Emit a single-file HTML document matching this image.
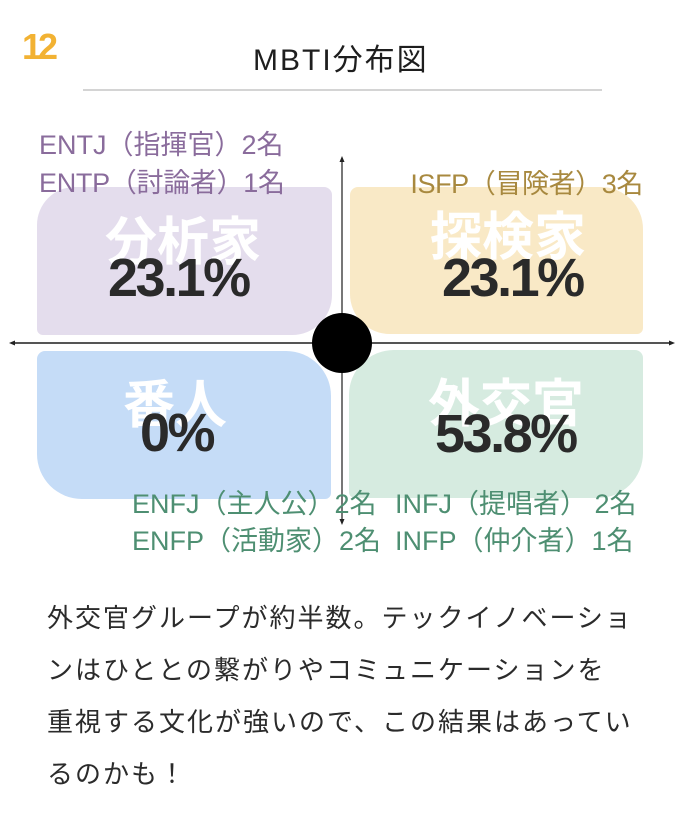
<!DOCTYPE html>
<html lang="ja">
<head>
<meta charset="utf-8">
<style>
  html,body{margin:0;padding:0;background:#fff;}
  body{width:684px;height:838px;position:relative;overflow:hidden;
       font-family:"Liberation Sans","Noto Sans CJK JP",sans-serif;}
  .a{position:absolute;white-space:nowrap;}
  .lbl{font-size:27px;line-height:27px;}
  .box{position:absolute;}
  .big{position:absolute;font-size:52px;line-height:52px;font-weight:bold;color:#fff;white-space:nowrap;
       font-family:"Liberation Sans","Noto Sans CJK JP",sans-serif;}
  .pct{position:absolute;font-size:54px;line-height:54px;font-weight:bold;color:#2a2a2a;letter-spacing:-2.5px;white-space:nowrap;}
</style>
</head>
<body>
  <!-- page number -->
  <div class="a" style="left:22px;top:29px;font-size:36px;line-height:36px;font-weight:bold;color:#f2b233;letter-spacing:-4px;">12</div>

  <!-- title -->
  <div class="a" style="left:253px;top:46px;font-size:30px;line-height:30px;color:#1e1e1e;letter-spacing:2px;">MBTI分布図</div>
  <div class="a" style="left:83px;top:89px;width:519px;height:2px;background:#d4d4d4;"></div>

  <!-- boxes -->
  <div class="box" style="left:37px;top:187px;width:295px;height:148px;background:#e4dded;border-radius:38px 8px 40px 6px;"></div>
  <div class="box" style="left:350px;top:187px;width:293px;height:147px;background:#f9e9c6;border-radius:8px 42px 6px 40px;"></div>
  <div class="box" style="left:37px;top:351px;width:294px;height:148px;background:#c5dcf7;border-radius:8px 45px 6px 45px;"></div>
  <div class="box" style="left:349px;top:350px;width:294px;height:148px;background:#d6ebe0;border-radius:45px 8px 45px 6px;"></div>

  <!-- axes -->
  <svg class="a" style="left:0;top:0;" width="684" height="838" viewBox="0 0 684 838">
    <line x1="13" y1="343" x2="671" y2="343" stroke="#555" stroke-width="2"/>
    <line x1="342" y1="159" x2="342" y2="522" stroke="#555" stroke-width="1.6"/>
    <polygon points="9,343 15,340.5 15,345.5" fill="#222"/>
    <polygon points="675,343 669,340.5 669,345.5" fill="#222"/>
    <polygon points="342,156 339.5,162 344.5,162" fill="#222"/>
    <polygon points="342,525 339.5,519 344.5,519" fill="#222"/>
    <circle cx="342" cy="343" r="30" fill="#000"/>
  </svg>

  <!-- big white labels -->
  <div class="big" style="left:105px;top:217px;">分析家</div>
  <div class="big" style="left:430px;top:212px;">探検家</div>
  <div class="big" style="left:123px;top:380px;">番人</div>
  <div class="big" style="left:428px;top:379px;">外交官</div>

  <!-- percentages -->
  <div class="pct" style="left:108px;top:251px;">23.1%</div>
  <div class="pct" style="left:442px;top:251px;">23.1%</div>
  <div class="pct" style="left:140px;top:406px;">0%</div>
  <div class="pct" style="left:435px;top:407px;">53.8%</div>

  <!-- type labels -->
  <div class="a lbl" style="left:39px;top:132px;color:#8a6c9c;">ENTJ（指揮官）2名</div>
  <div class="a lbl" style="left:39px;top:170px;color:#8a6c9c;letter-spacing:-0.3px;">ENTP（討論者）1名</div>
  <div class="a lbl" style="right:41px;top:171px;color:#a8893f;letter-spacing:-0.4px;">ISFP（冒険者）3名</div>

  <div class="a lbl" style="left:132px;top:491px;color:#4e8f72;">ENFJ（主人公）2名</div>
  <div class="a lbl" style="left:132px;top:528px;color:#4e8f72;">ENFP（活動家）2名</div>
  <div class="a lbl" style="left:395px;top:491px;color:#4e8f72;">INFJ（提唱者） 2名</div>
  <div class="a lbl" style="left:395px;top:528px;color:#4e8f72;">INFP（仲介者）1名</div>

  <!-- paragraph -->
  <div class="a" style="left:47px;top:592px;font-size:26px;line-height:52px;letter-spacing:2px;color:#2b2b2b;">外交官グループが約半数。テックイノベーショ<br>ンはひととの繋がりやコミュニケーションを<br>重視する文化が強いので、この結果はあってい<br>るのかも！</div>
</body>
</html>
